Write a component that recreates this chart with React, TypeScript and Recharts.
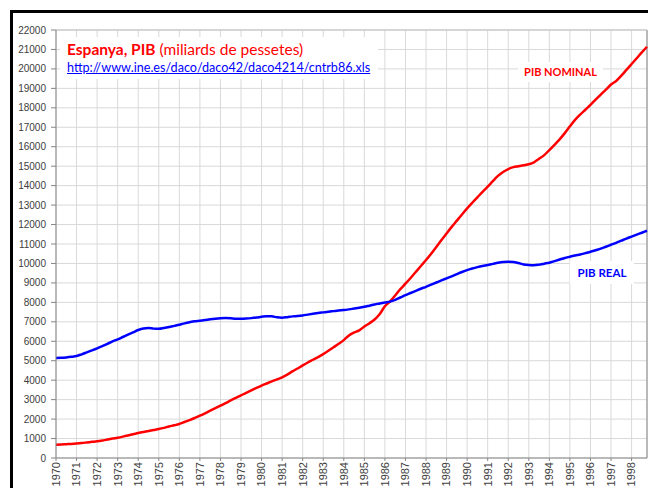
import { LineChart, Line, XAxis, YAxis, CartesianGrid, ReferenceLine } from 'recharts';

// quarterly series, 1970 Q1 .. 1998 Q4 (miliards de pessetes)
const years = [
  1970, 1971, 1972, 1973, 1974, 1975, 1976, 1977, 1978, 1979,
  1980, 1981, 1982, 1983, 1984, 1985, 1986, 1987, 1988, 1989,
  1990, 1991, 1992, 1993, 1994, 1995, 1996, 1997, 1998,
];

const pibNominal = [
  683, 695, 710, 725,
  745, 770, 800, 830,
  860, 900, 950, 1000,
  1045, 1100, 1160, 1220,
  1285, 1340, 1390, 1440,
  1490, 1550, 1620, 1680,
  1750, 1850, 1950, 2060,
  2175, 2300, 2430, 2560,
  2690, 2820, 2960, 3090,
  3220, 3350, 3470, 3600,
  3720, 3830, 3940, 4040,
  4150, 4290, 4450, 4600,
  4760, 4910, 5050, 5190,
  5340, 5510, 5690, 5870,
  6060, 6300, 6450, 6560,
  6760, 6930, 7120, 7400,
  7800, 8050, 8350, 8680,
  8960, 9250, 9560, 9870,
  10175, 10500, 10850, 11200,
  11545, 11880, 12200, 12520,
  12830, 13120, 13400, 13680,
  13945, 14230, 14500, 14700,
  14850, 14950, 15000, 15050,
  15100, 15200, 15380, 15570,
  15830, 16100, 16380, 16700,
  17050, 17380, 17650, 17900,
  18150, 18420, 18680, 18930,
  19200, 19380, 19650, 19950,
  20250, 20550, 20850, 21140,
];

const pibReal = [
  5140, 5150, 5170, 5200,
  5240, 5330, 5430, 5530,
  5635, 5750, 5870, 5990,
  6100, 6220, 6340, 6460,
  6580, 6660, 6680, 6650,
  6640, 6680, 6730, 6790,
  6850, 6920, 6980, 7030,
  7055, 7090, 7130, 7160,
  7180, 7190, 7180, 7160,
  7160, 7170, 7190, 7220,
  7260, 7290, 7280, 7230,
  7210, 7240, 7280, 7300,
  7330, 7370, 7410, 7450,
  7485, 7520, 7550, 7580,
  7605, 7640, 7680, 7720,
  7770, 7830, 7890, 7940,
  7990, 8040, 8130, 8250,
  8375, 8480, 8590, 8700,
  8800, 8910, 9020, 9130,
  9235, 9340, 9450, 9560,
  9660, 9740, 9810, 9870,
  9920, 9980, 10040, 10080,
  10090, 10080, 10020, 9950,
  9920, 9910, 9940, 9990,
  10040, 10120, 10200, 10280,
  10345, 10410, 10460, 10530,
  10600, 10680, 10760, 10860,
  10960, 11060, 11170, 11280,
  11380, 11480, 11580, 11680,
];

const yTicks = [
  0, 1000, 2000, 3000, 4000, 5000, 6000, 7000, 8000, 9000, 10000,
  11000, 12000, 13000, 14000, 15000, 16000, 17000, 18000, 19000,
  20000, 21000, 22000,
];

const rows = pibNominal.map((v, i) => ({
  t: years[0] + i / 4,
  nominal: v,
  real: pibReal[i],
}));

const lastT = rows[rows.length - 1].t;

const YearTick = (props: any) => {
  const { x, y, payload } = props;
  return (
    <g transform={`translate(${x},${y})`}>
      <text
        transform="rotate(-90)"
        textAnchor="end"
        dy="0.35em"
        fontSize={11}
        fontFamily="'Liberation Sans', Arial, sans-serif"
        fill="#404040"
      >
        {payload.value}
      </text>
    </g>
  );
};

export default function App() {
  return (
    <div
      style={{
        position: 'fixed',
        left: 0,
        top: 0,
        width: 648,
        height: 488,
        overflow: 'hidden',
        background: '#fff',
      }}
    >
      <div
        style={{
          position: 'absolute',
          left: 10,
          top: 10,
          width: 800,
          height: 600,
          borderLeft: '3px solid #000',
          borderTop: '3px solid #000',
        }}
      />
      <div style={{ position: 'absolute', left: 0, top: 0 }}>
        <LineChart
          width={648}
          height={488}
          data={rows}
          margin={{ top: 30, right: 1, left: 0, bottom: 0 }}
        >
          <CartesianGrid stroke="#d9d9d9" strokeWidth={1} />
          <XAxis
            dataKey="t"
            type="number"
            domain={[1970, lastT]}
            ticks={years}
            interval={0}
            height={30}
            tickSize={3}
            tickMargin={1}
            stroke="#868686"
            tick={<YearTick />}
          />
          <YAxis
            domain={[0, 22000]}
            ticks={yTicks}
            interval={0}
            width={56}
            tickSize={5}
            tickMargin={5}
            stroke="#868686"
            tick={{ fill: '#404040', fontSize: 10, fontFamily: "'Liberation Sans', Arial, sans-serif" }}
          />
          <ReferenceLine x={lastT} stroke="#868686" />
          <ReferenceLine y={22000} stroke="#bfbfbf" />
          <Line
            type="monotone"
            dataKey="nominal"
            stroke="#ff0000"
            strokeWidth={2.5}
            dot={false}
            isAnimationActive={false}
          />
          <Line
            type="monotone"
            dataKey="real"
            stroke="#0000ff"
            strokeWidth={2.5}
            dot={false}
            isAnimationActive={false}
          />
        </LineChart>
      </div>

      <div
        style={{
          position: 'absolute',
          left: 60,
          top: 37,
          width: 318,
          height: 42,
          background: '#fff',
        }}
      />
      <div
        style={{
          position: 'absolute',
          left: 67,
          top: 40,
          fontFamily: 'Lato, sans-serif',
          fontSize: 15.5,
          color: '#ff0000',
          whiteSpace: 'nowrap',
          lineHeight: '18px',
        }}
      >
        <b>Espanya, PIB</b> (miliards de pessetes)
      </div>
      <div
        style={{
          position: 'absolute',
          left: 67,
          top: 60,
          fontFamily: 'Lato, sans-serif',
          fontSize: 12.6,
          color: '#0000ff',
          textDecoration: 'underline',
          whiteSpace: 'nowrap',
          lineHeight: '16px',
        }}
      >
        http://www.ine.es/daco/daco42/daco4214/cntrb86.xls
      </div>

      <div
        style={{
          position: 'absolute',
          left: 518,
          top: 62,
          width: 85,
          height: 20,
          background: '#fff',
          color: '#ff0000',
          fontFamily: 'Lato, sans-serif',
          fontWeight: 700,
          fontSize: 11,
          lineHeight: '20px',
          textAlign: 'center',
        }}
      >
        PIB NOMINAL
      </div>
      <div
        style={{
          position: 'absolute',
          left: 570,
          top: 261,
          width: 64,
          height: 23,
          background: '#fff',
          color: '#0000ff',
          fontFamily: 'Lato, sans-serif',
          fontWeight: 700,
          fontSize: 11.5,
          lineHeight: '23px',
          textAlign: 'center',
        }}
      >
        PIB REAL
      </div>
    </div>
  );
}
